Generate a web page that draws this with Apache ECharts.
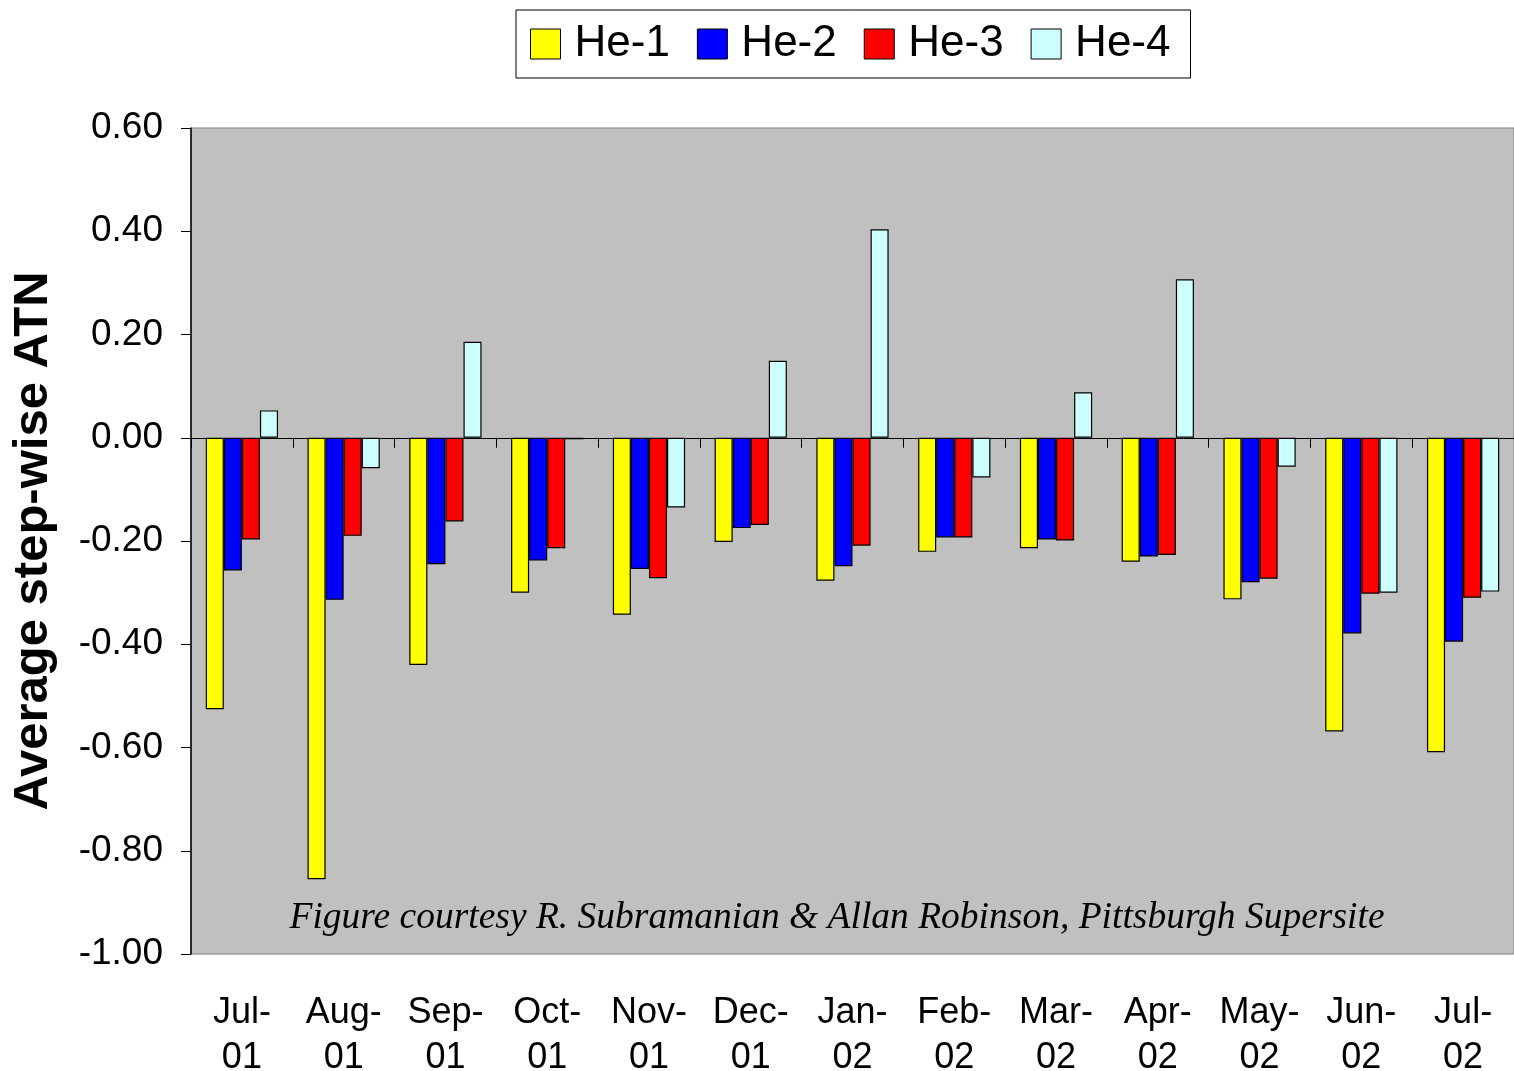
<!DOCTYPE html>
<html>
<head>
<meta charset="utf-8">
<script src="https://cdn.jsdelivr.net/npm/echarts@6/dist/echarts.min.js"></script>
<style>
  html, body { margin: 0; padding: 0; background: #fff; }
  #chart { width: 1514px; height: 1071px; }
</style>
</head>
<body>
<div id="chart"></div>
<script>
// categories (month-year)
var months = ['Jul-\n01', 'Aug-\n01', 'Sep-\n01', 'Oct-\n01', 'Nov-\n01', 'Dec-\n01', 'Jan-\n02',
              'Feb-\n02', 'Mar-\n02', 'Apr-\n02', 'May-\n02', 'Jun-\n02', 'Jul-\n02'];

// average step-wise ATN per filter
var he1 = [-0.526, -0.855, -0.440, -0.300, -0.343, -0.202, -0.277, -0.221, -0.214, -0.240, -0.313, -0.569, -0.609];
var he2 = [-0.257, -0.314, -0.245, -0.238, -0.254, -0.175, -0.249, -0.193, -0.197, -0.230, -0.280, -0.379, -0.395];
var he3 = [-0.197, -0.190, -0.162, -0.214, -0.272, -0.169, -0.209, -0.193, -0.199, -0.227, -0.273, -0.302, -0.310];
var he4 = [0.053, -0.059, 0.186, -0.003, -0.135, 0.149, 0.404, -0.077, 0.088, 0.307, -0.056, -0.300, -0.298];

var seriesNames = ['He-1', 'He-2', 'He-3', 'He-4'];
var seriesColors = ['#FFFF00', '#0000FF', '#FF0000', '#CCFFFF'];
var seriesData = [he1, he2, he3, he4];

var font = 'Liberation Sans, Arial, sans-serif';

var series = [];
for (var i = 0; i < seriesNames.length; i++) {
    series.push({
        name: seriesNames[i],
        type: 'bar',
        xAxisIndex: 0,
        data: seriesData[i],
        barGap: '0%',
        barCategoryGap: '29%',
        itemStyle: {
            color: seriesColors[i],
            borderColor: '#000',
            borderWidth: 1.2
        }
    });
}

var option = {
    backgroundColor: '#fff',
    animation: false,
    grid: {
        left: 191,
        right: 0,
        top: 128,
        bottom: 117,
        outerBoundsMode: 'none',
        show: true,
        backgroundColor: '#C0C0C0',
        borderColor: '#808080',
        borderWidth: 1
    },
    legend: {
        data: seriesNames,
        left: 516,
        top: 10,
        icon: 'rect',
        itemWidth: 30,
        itemHeight: 30,
        itemGap: 27,
        padding: [12, 20, 12, 14],
        borderColor: '#000',
        borderWidth: 1,
        itemStyle: { borderColor: '#000', borderWidth: 1 },
        textStyle: {
            fontFamily: font,
            fontSize: 44,
            color: '#000',
            padding: [0, 0, 0, 9]
        }
    },
    xAxis: [
        {
            // axis line at zero with boundary ticks
            type: 'category',
            data: months,
            position: 'bottom',
            axisLine: { onZero: true, lineStyle: { color: '#000', width: 1 } },
            axisTick: { show: true, length: 10, lineStyle: { color: '#000' } },
            axisLabel: { show: false },
            splitLine: { show: false }
        },
        {
            // labels at the bottom of the plot
            type: 'category',
            data: months,
            position: 'bottom',
            axisLine: { show: false, onZero: false },
            axisTick: { show: false },
            axisLabel: {
                fontFamily: font,
                fontSize: 36,
                lineHeight: 45,
                color: '#000',
                margin: 37,
                interval: 0
            },
            splitLine: { show: false }
        }
    ],
    yAxis: {
        type: 'value',
        min: -1,
        max: 0.6,
        interval: 0.2,
        axisLine: { show: true, lineStyle: { color: '#000', width: 1.5 } },
        axisTick: { show: true, length: 10, lineStyle: { color: '#000' } },
        axisLabel: {
            fontFamily: font,
            fontSize: 37,
            color: '#000',
            margin: 28,
            formatter: function (v) { return v.toFixed(2); }
        },
        splitLine: { show: false }
    },
    graphic: [
        {
            type: 'text',
            x: 33,
            y: 541,
            rotation: Math.PI / 2,
            style: {
                text: 'Average step-wise ATN',
                fontFamily: font,
                fontWeight: 'bold',
                fontSize: 49,
                fill: '#000',
                align: 'center',
                verticalAlign: 'middle'
            }
        },
        {
            type: 'text',
            x: 837,
            y: 918,
            z: 10,
            style: {
                text: 'Figure courtesy R. Subramanian & Allan Robinson, Pittsburgh Supersite',
                fontFamily: 'Liberation Serif, Times New Roman, serif',
                fontStyle: 'italic',
                fontSize: 37.5,
                fill: '#000',
                align: 'center',
                verticalAlign: 'middle'
            }
        }
    ],
    series: series
};

var myChart = echarts.init(document.getElementById('chart'));
myChart.setOption(option);
</script>
</body>
</html>
